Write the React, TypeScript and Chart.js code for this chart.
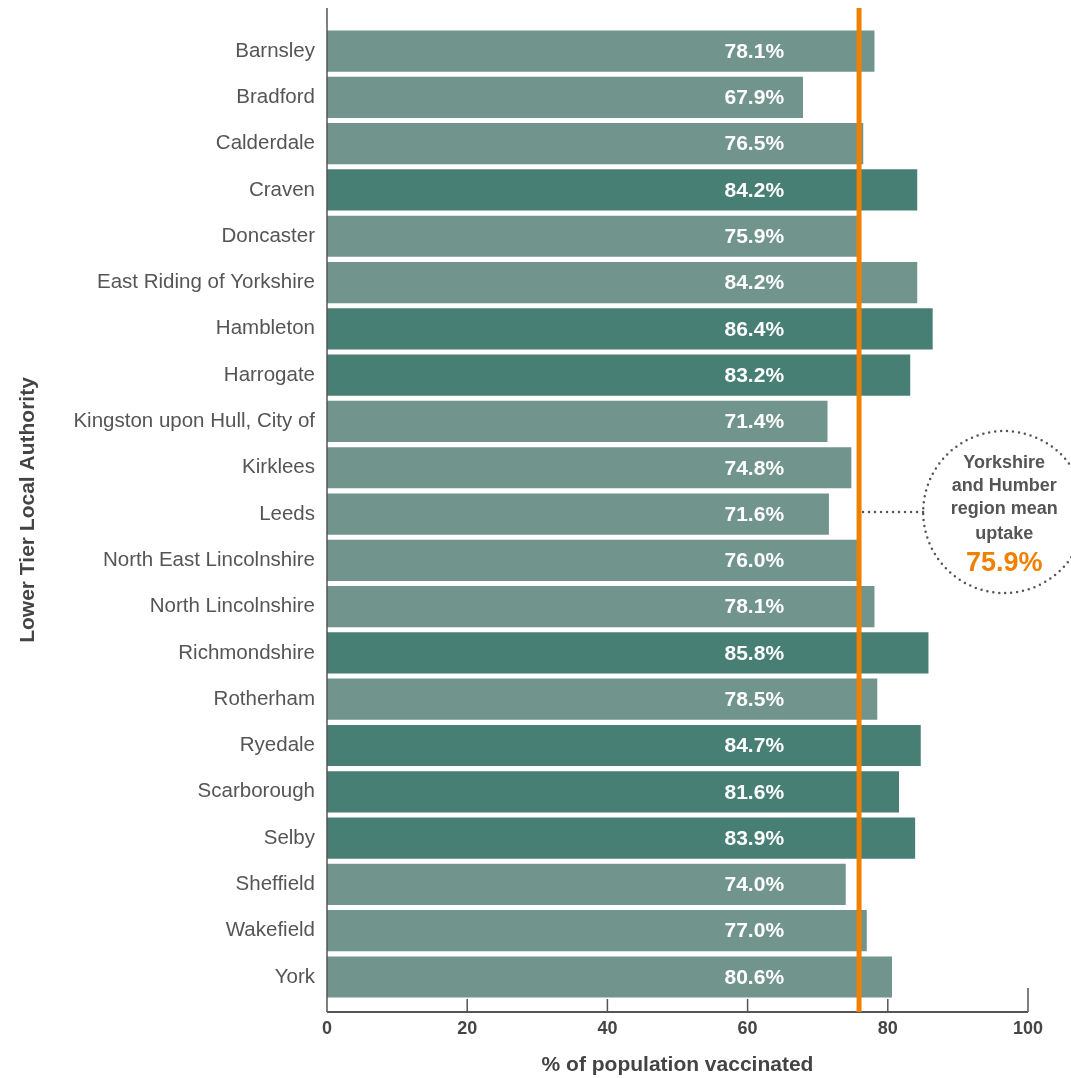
import React, { useEffect, useRef } from "react";
import { Chart, registerables } from "chart.js";

Chart.register(...registerables);

const categories = [
  "Barnsley", "Bradford", "Calderdale", "Craven", "Doncaster",
  "East Riding of Yorkshire", "Hambleton", "Harrogate",
  "Kingston upon Hull, City of", "Kirklees", "Leeds",
  "North East Lincolnshire", "North Lincolnshire", "Richmondshire",
  "Rotherham", "Ryedale", "Scarborough", "Selby", "Sheffield",
  "Wakefield", "York",
];
const uptake = [
  78.1, 67.9, 76.5, 84.2, 75.9, 84.2, 86.4, 83.2, 71.4, 74.8, 71.6,
  76.0, 78.1, 85.8, 78.5, 84.7, 81.6, 83.9, 74.0, 77.0, 80.6,
];
const northYorkshire = [
  false, false, false, true, false, false, true, true, false, false, false,
  false, false, true, false, true, true, true, false, false, false,
];
const regionMean = 75.9;
const xTicks = [0, 20, 40, 60, 80, 100];
const annotationLines = ["Yorkshire", "and Humber", "region mean", "uptake"];

const DARK = "#477F74";
const LIGHT = "#71958C";
const ORANGE = "#F08100";
const TEXT = "#444444";
const FONT = "'Liberation Sans', Arial, Helvetica, sans-serif";

export default function App() {
  const ref = useRef<HTMLCanvasElement | null>(null);

  useEffect(() => {
    document.body.style.margin = "0";
    const canvas = ref.current;
    if (!canvas) return;

    const overlay = {
      id: "overlay",
      afterDatasetsDraw(chart: any) {
        const ctx = chart.ctx;
        const xs = chart.scales.x;
        const ys = chart.scales.y;
        const area = chart.chartArea;
        ctx.save();
        // value labels
        ctx.fillStyle = "#ffffff";
        ctx.font = `bold 21px ${FONT}`;
        ctx.textAlign = "right";
        ctx.textBaseline = "middle";
        uptake.forEach((v, i) => {
          ctx.fillText(v.toFixed(1) + "%", xs.getPixelForValue(65.2), ys.getPixelForValue(i) + 1);
        });
        // axes
        ctx.strokeStyle = "#555555";
        ctx.lineWidth = 1.5;
        ctx.beginPath();
        ctx.moveTo(area.left, area.top);
        ctx.lineTo(area.left, area.bottom);
        ctx.stroke();
        ctx.lineWidth = 2;
        ctx.beginPath();
        ctx.moveTo(area.left, area.bottom);
        ctx.lineTo(area.right, area.bottom);
        ctx.stroke();
        ctx.lineWidth = 1.5;
        xTicks.forEach((t) => {
          if (t === 0) return;
          const px = xs.getPixelForValue(t);
          ctx.beginPath();
          ctx.moveTo(px, area.bottom);
          ctx.lineTo(px, area.bottom - (t === 100 ? 24 : 13));
          ctx.stroke();
        });
        // mean line
        const mx = xs.getPixelForValue(regionMean);
        ctx.strokeStyle = ORANGE;
        ctx.lineWidth = 5;
        ctx.beginPath();
        ctx.moveTo(mx, area.top);
        ctx.lineTo(mx, area.bottom);
        ctx.stroke();
        // annotation
        const cy = ys.getPixelForValue(10) - 2;
        const cx = xs.getPixelForValue(96.6);
        const r = 81;
        ctx.strokeStyle = "#555555";
        ctx.lineWidth = 2.5;
        ctx.lineCap = "round";
        ctx.setLineDash([0, 6]);
        ctx.beginPath();
        ctx.moveTo(mx + 4, cy);
        ctx.lineTo(cx - r, cy);
        ctx.stroke();
        ctx.beginPath();
        ctx.arc(cx, cy, r, 0, Math.PI * 2);
        ctx.stroke();
        ctx.setLineDash([]);
        ctx.fillStyle = "#555555";
        ctx.font = `bold 18px ${FONT}`;
        ctx.textAlign = "center";
        const offs = [-49, -26, -3, 22];
        annotationLines.forEach((s, i) => {
          ctx.fillText(s, cx, cy + offs[i]);
        });
        ctx.fillStyle = ORANGE;
        ctx.font = `bold 27px ${FONT}`;
        ctx.fillText(regionMean.toFixed(1) + "%", cx, cy + 52);
        ctx.restore();
      },
    };

    const chart = new Chart(canvas, {
      type: "bar",
      data: {
        datasets: [
          {
            data: uptake.map((v, i) => ({ x: v, y: i })),
            backgroundColor: northYorkshire.map((n) => (n ? DARK : LIGHT)),
            barPercentage: 0.89,
            categoryPercentage: 1,
          },
        ],
      },
      options: {
        indexAxis: "y",
        animation: false,
        responsive: false,
        devicePixelRatio: 1,
        layout: { padding: { top: 8, right: 43, left: 0, bottom: 0 } },
        plugins: { legend: { display: false }, tooltip: { enabled: false } },
        scales: {
          x: {
            type: "linear",
            min: 0,
            max: 100,
            grid: { display: false },
            border: { display: false },
            ticks: {
              stepSize: 20,
              padding: -2,
              color: TEXT,
              font: { family: FONT, size: 18, weight: "bold" },
            },
            title: {
              display: true,
              text: "% of population vaccinated",
              color: TEXT,
              font: { family: FONT, size: 21, weight: "bold" },
              padding: { top: 10, bottom: 0 },
            },
            afterFit(scale: any) {
              scale.height = 66;
              scale.paddingLeft = 0;
              scale.paddingRight = 0;
            },
          },
          y: {
            type: "linear",
            offset: false,
            reverse: true,
            min: -0.93,
            max: 20.756,
            grid: { display: false, offset: false },
            border: { display: false },
            afterBuildTicks(scale: any) {
              scale.ticks = categories.map((_, i) => ({ value: i }));
            },
            ticks: {
              padding: 4,
              color: "#555555",
              autoSkip: false,
              font: { family: FONT, size: 20.5 },
              callback: (v: any) => categories[v as number] ?? "",
            },
            title: {
              display: true,
              text: "Lower Tier Local Authority",
              color: TEXT,
              font: { family: FONT, size: 21, weight: "bold" },
              padding: { top: 16, bottom: 0 },
            },
            afterFit(scale: any) {
              scale.width = 327;
              scale.paddingTop = 0;
              scale.paddingBottom = 0;
            },
          },
        },
      },
      plugins: [overlay],
    } as any);

    return () => chart.destroy();
  }, []);

  return <canvas ref={ref} width={1071} height={1078} style={{ display: "block" }} />;
}
